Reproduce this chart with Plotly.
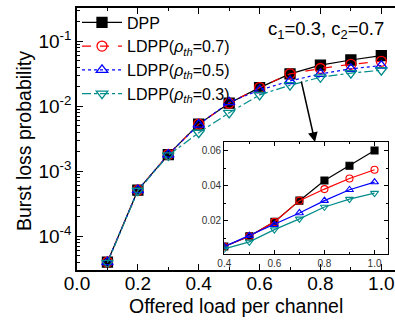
import plotly.graph_objects as go

load = [0.1, 0.2, 0.3, 0.4, 0.5, 0.6, 0.7, 0.8, 0.9, 1.0]
dpp = [4.0e-5, 5.1e-4, 1.8e-3, 5.3e-3, 0.0111, 0.0193, 0.0314, 0.0429, 0.0513, 0.060]
ldpp_07 = [4.0e-5, 5.1e-4, 1.8e-3, 5.3e-3, 0.0111, 0.0193, 0.0314, 0.0380, 0.0440, 0.0490]
ldpp_05 = [4.0e-5, 5.1e-4, 1.8e-3, 5.2e-3, 0.0115, 0.0177, 0.0244, 0.0314, 0.0376, 0.0420]
ldpp_03 = [3.9e-5, 5.0e-4, 1.75e-3, 3.9e-3, 0.0079, 0.0149, 0.0210, 0.0278, 0.0323, 0.0357]

y_tickvals = [1e-4, 1e-3, 1e-2, 1e-1]
y_ticktext = ["10<sup>-4</sup>", "10<sup>-3</sup>", "10<sup>-2</sup>", "10<sup>-1</sup>"]

inset_load = load[3:]
names = ["DPP",
         "LDPP(<i>ρ<sub>th</sub></i>=0.7)",
         "LDPP(<i>ρ<sub>th</sub></i>=0.5)",
         "LDPP(<i>ρ<sub>th</sub></i>=0.3)"]
series = [dpp, ldpp_07, ldpp_05, ldpp_03]
colors = ["#000000", "#ff0000", "#0000ff", "#008b8b"]
symbols = ["square", "circle-open", "triangle-up-open", "triangle-down-open"]
dashes = ["solid", "dash", "dot", "dashdot"]

FONT = "Arial, Liberation Sans, sans-serif"
fig = go.Figure()
for s, n, c, sym, d in zip(series, names, colors, symbols, dashes):
    fig.add_trace(go.Scatter(
        x=load, y=s, name=n, mode="lines+markers",
        line=dict(color=c, width=1.2, dash=d),
        marker=dict(symbol=sym, size=10, color=c, line=dict(color=c, width=1.3)),
        xaxis="x", yaxis="y"))
for s, c, sym in zip(series, colors, symbols):
    fig.add_trace(go.Scatter(
        x=inset_load, y=s[3:], mode="lines+markers", showlegend=False,
        line=dict(color=c, width=1.2),
        marker=dict(symbol=sym, size=7, color=c, line=dict(color=c, width=1.1)),
        xaxis="x2", yaxis="y2"))

W, H = 395, 320
ML, MR, MT, MB = 77, 0, 8, 50
PW, PH = W - ML - MR, H - MT - MB

def px(x):
    return (x - ML) / PW

def py(y):
    return (H - MB - y) / PH

fig.update_layout(
    width=W, height=H,
    margin=dict(l=ML, r=MR, t=MT, b=MB),
    paper_bgcolor="white", plot_bgcolor="white",
    font=dict(family=FONT, color="black", size=18),
    showlegend=True,
    legend=dict(x=0.0, y=1.01, xanchor="left", yanchor="top",
                bgcolor="rgba(0,0,0,0)", font=dict(size=16),
                itemwidth=40, tracegroupgap=0),
    xaxis=dict(range=[0, 1.045], domain=[0, 1], dtick=0.2, tickformat=".1f",
               showline=True, linecolor="black", linewidth=1.5, mirror="ticks",
               ticks="inside", ticklen=6, tickwidth=1.2, tickcolor="black",
               minor=dict(dtick=0.1, ticks="inside", ticklen=3, tickcolor="black"),
               showgrid=False, zeroline=False, ticklabelstandoff=-5,
               tickfont=dict(size=19)),
    yaxis=dict(type="log", range=[-4.52, -0.49], domain=[0, 1],
               tickmode="array", tickvals=y_tickvals, ticktext=y_ticktext,
               showline=True, linecolor="black", linewidth=1.5,
               ticks="inside", ticklen=6, tickwidth=1.2, tickcolor="black",
               minor=dict(dtick="D1", ticks="inside", ticklen=3, tickcolor="black"),
               showgrid=False, zeroline=False,
               tickfont=dict(size=19)),
    xaxis2=dict(range=[0.4, 1.055], domain=[px(224.3), px(388.3)], anchor="y2",
                tickvals=[0.4, 0.6, 0.8, 1.0], ticktext=["0.4", "0.6", "0.8", "1.0"],
                showline=True, linecolor="black", linewidth=1.2, mirror="ticks",
                ticks="inside", ticklen=4, tickcolor="black",
                minor=dict(dtick=0.1, ticks="inside", ticklen=2, tickcolor="black"),
                showgrid=False, zeroline=False,
                tickfont=dict(size=10, color="#333333")),
    yaxis2=dict(range=[0.001, 0.065], domain=[py(254), py(141.7)], anchor="x2",
                tickvals=[0.02, 0.04, 0.06], ticktext=["0.02", "0.04", "0.06"],
                showline=True, linecolor="black", linewidth=1.2, mirror="ticks",
                ticks="inside", ticklen=4, tickcolor="black",
                minor=dict(dtick=0.01, ticks="inside", ticklen=2, tickcolor="black"),
                showgrid=False, zeroline=False,
                tickfont=dict(size=10, color="#333333")),
    annotations=[
        dict(x=-(ML - 24) / PW, y=py(141), xref="paper", yref="paper",
             xanchor="center", yanchor="middle", textangle=-90, showarrow=False,
             text="Burst loss probability", font=dict(size=19.5)),
        dict(x=px(236), y=py(306), xref="paper", yref="paper",
             xanchor="center", yanchor="middle", showarrow=False,
             text="Offered load per channel", font=dict(size=19.5)),
        dict(x=px(386), y=py(30), xref="paper", yref="paper", xanchor="right",
             yanchor="middle", showarrow=False,
             text="c<sub>1</sub>=0.3, c<sub>2</sub>=0.7", font=dict(size=18.5)),
        dict(x=px(315), y=py(142), xref="paper", yref="paper", text="",
             showarrow=True, ax=-14, ay=-62, axref="pixel", ayref="pixel",
             arrowhead=2, arrowsize=1.3, arrowwidth=1.5, arrowcolor="black"),
    ],
)

fig.write_html("out.html", config={"displayModeBar": False},
               post_script="document.body.style.margin='0px';document.body.style.padding='0px';")
